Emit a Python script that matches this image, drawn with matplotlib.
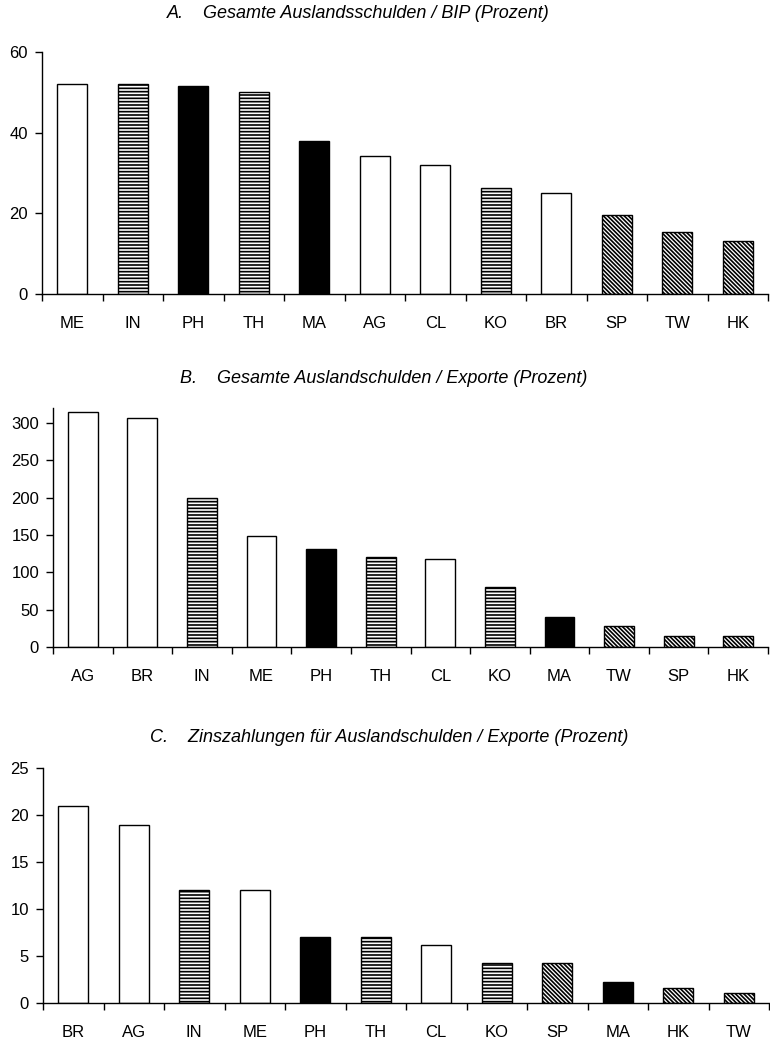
import matplotlib
matplotlib.use("Agg")
import matplotlib.pyplot as plt
import numpy as np

plt.rcParams['font.family'] = ['Liberation Sans', 'DejaVu Sans']
plt.rcParams['hatch.linewidth'] = 1.2

# Panel A
cats_a = ["ME", "IN", "PH", "TH", "MA", "AG", "CL", "KO", "BR", "SP", "TW", "HK"]
vals_a = [52.0, 52.0, 51.6, 50.0, 38.0, 34.2, 32.1, 26.4, 25.1, 19.7, 15.3, 13.2]
# Panel B
cats_b = ["AG", "BR", "IN", "ME", "PH", "TH", "CL", "KO", "MA", "TW", "SP", "HK"]
vals_b = [314, 306.5, 199, 149, 131.5, 120.5, 117.5, 80.5, 40.5, 28.5, 14.3, 14.3]
# Panel C
cats_c = ["BR", "AG", "IN", "ME", "PH", "TH", "CL", "KO", "SP", "MA", "HK", "TW"]
vals_c = [21.0, 18.9, 12.0, 12.0, 7.05, 7.05, 6.2, 4.25, 4.25, 2.2, 1.6, 1.1]

titles = ["A.    Gesamte Auslandsschulden / BIP (Prozent)",
          "B.    Gesamte Auslandschulden / Exporte (Prozent)",
          "C.    Zinszahlungen für Auslandschulden / Exporte (Prozent)"]
yticks = [[0, 20, 40, 60], [0, 50, 100, 150, 200, 250, 300], [0, 5, 10, 15, 20, 25]]
ylims = [60, 320, 25]

# country group styles
white = ["ME", "AG", "CL", "BR"]
striped = ["IN", "TH", "KO"]
black = ["PH", "MA"]
diag = ["SP", "TW", "HK"]

def style(c):
    if c in black:
        return dict(facecolor="black", hatch=None)
    if c in striped:
        return dict(facecolor="white", hatch="-----")
    if c in diag:
        return dict(facecolor="white", hatch="\\" * 8)
    return dict(facecolor="white", hatch=None)

W, H = 770, 1043
fig = plt.figure(figsize=(W / 100, H / 100), dpi=100)

# axes rectangles in pixels: left, top, right, bottom
rects = [(42, 52, 768, 294), (53, 408, 768, 647), (43, 768, 769, 1003)]
title_pos = [(358, 14), (384, 379), (389, 738)]

for i, (cats, vals) in enumerate([(cats_a, vals_a), (cats_b, vals_b), (cats_c, vals_c)]):
    l, t, r, b = rects[i]
    ax = fig.add_axes([l / W, 1 - b / H, (r - l) / W, (b - t) / H])
    x = np.arange(len(cats))
    for xi, c, v in zip(x, cats, vals):
        st = style(c)
        ax.bar(xi, v, width=0.5, facecolor=st["facecolor"], edgecolor="black",
               hatch=st["hatch"], linewidth=1.0)
    ax.set_xlim(-0.5, len(cats) - 0.5)
    ax.set_ylim(0, ylims[i])
    ax.set_yticks(yticks[i])
    ax.set_xticks(np.arange(len(cats) + 1) - 0.5)
    ax.set_xticklabels([])
    ax.set_xticks(x, minor=True)
    ax.set_xticklabels(cats, minor=True, fontsize=12)
    ax.tick_params(axis="x", which="minor", length=0, pad=16)
    ax.tick_params(axis="x", which="major", length=5, width=1, direction="out")
    ax.tick_params(axis="y", length=5, width=1, direction="out", labelsize=12, pad=5)
    for s in ["top", "right"]:
        ax.spines[s].set_visible(False)
    for s in ["left", "bottom"]:
        ax.spines[s].set_linewidth(1.0)
    tx, ty = title_pos[i]
    fig.text(tx / W, 1 - ty / H, titles[i], ha="center", va="center",
             fontsize=13, style="italic")

fig.savefig("out.png", dpi=100)
